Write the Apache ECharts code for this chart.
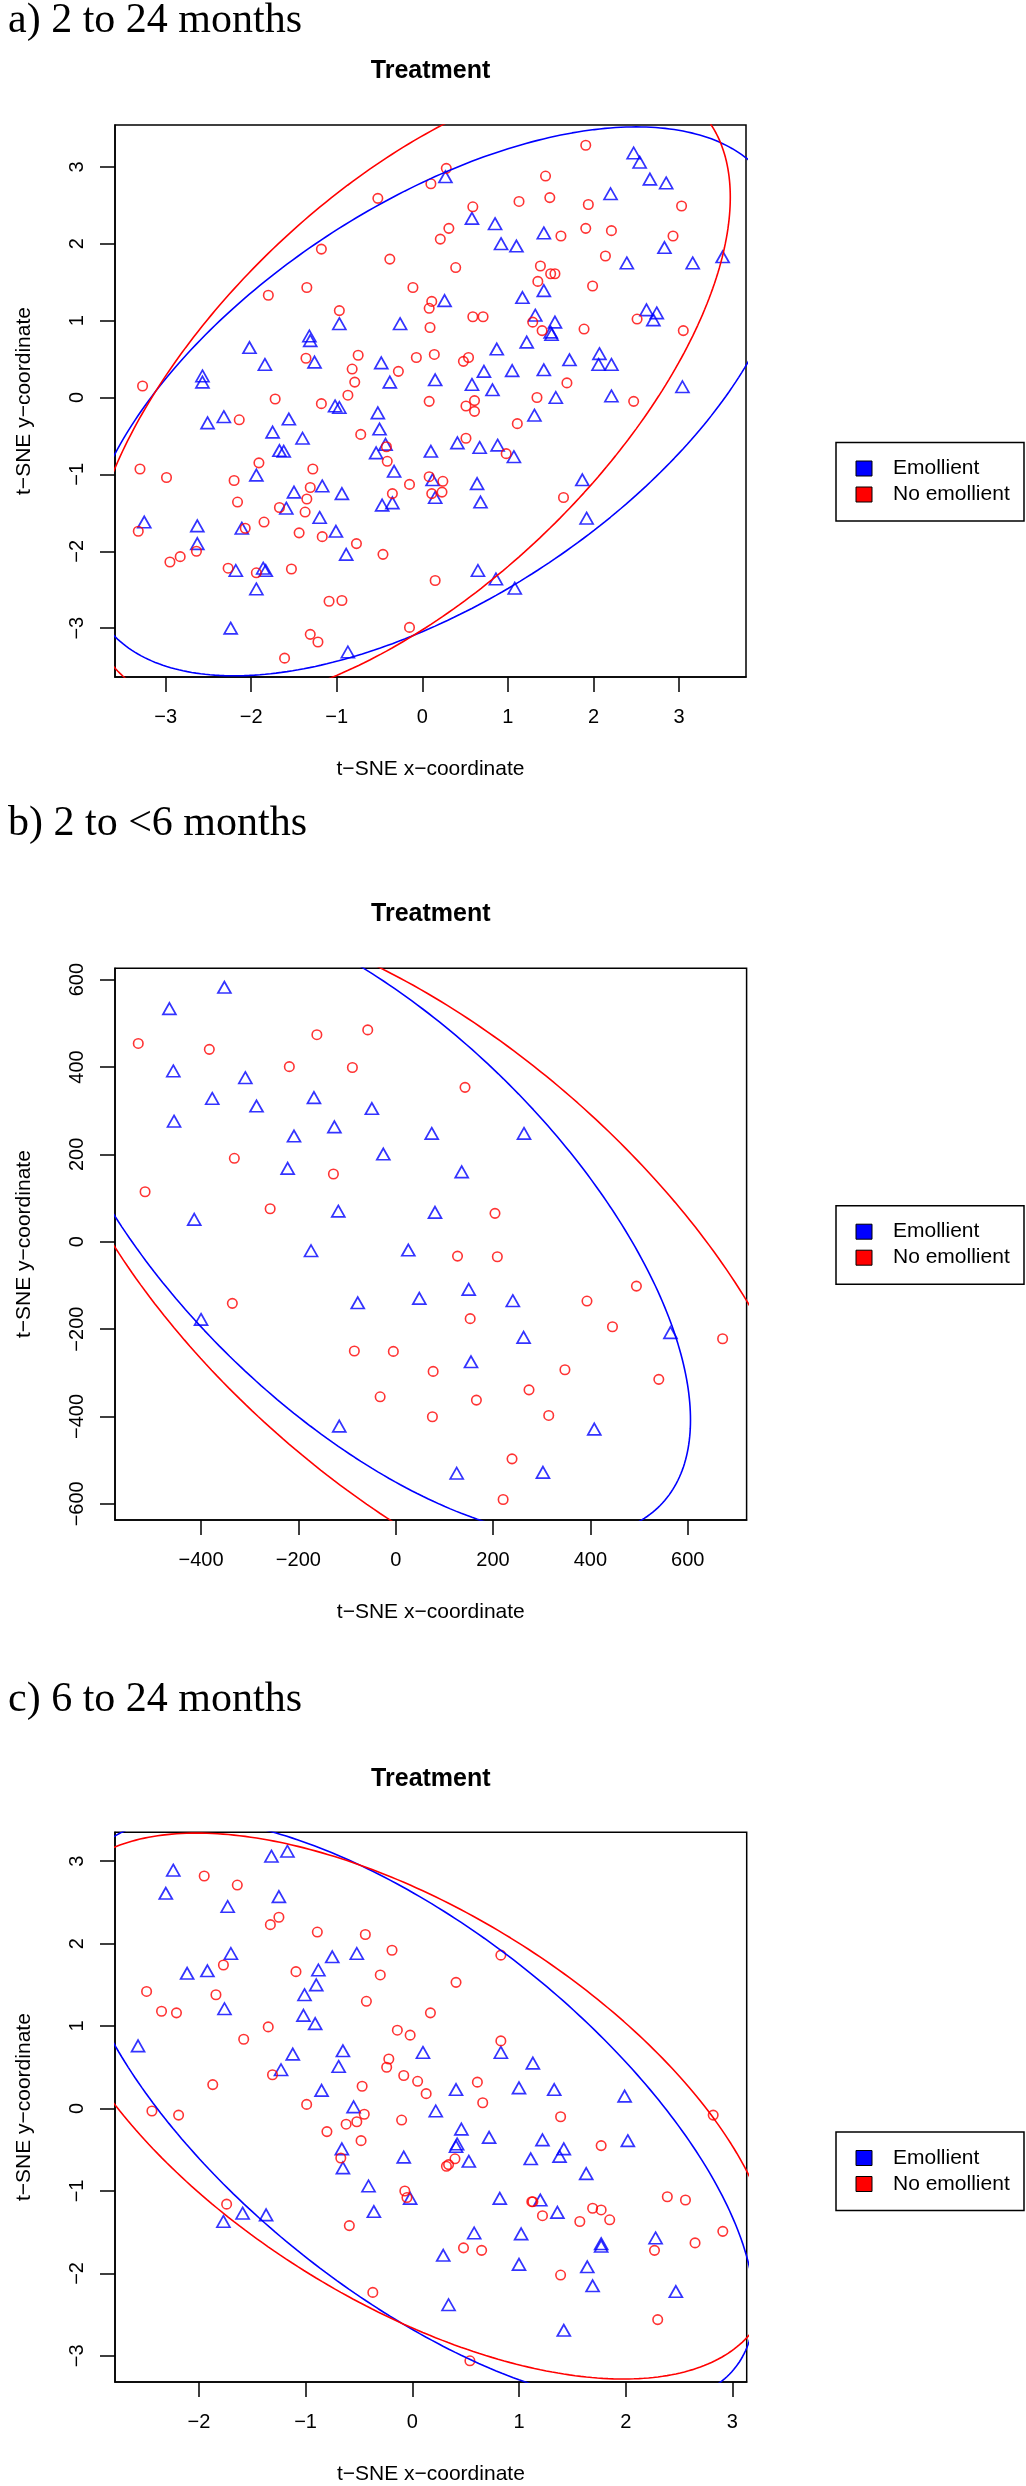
<!DOCTYPE html>
<html><head><meta charset="utf-8">
<script src="https://cdn.jsdelivr.net/npm/echarts@6/dist/echarts.min.js"></script>
<style>html,body{margin:0;padding:0;background:#fff}#chart{width:1026px;height:2486px}</style>
</head><body><div id="chart"></div>
<script>
// ---------- DATA ----------
// Panel a: 2 to 24 months
var aEmollient = [[-2.57,0.28],[-2.57,0.20],[-2.02,0.65],[-1.84,0.43],[-1.32,0.80],[-1.31,0.74],[-0.97,0.96],[-0.26,0.96],[-1.26,0.46],[-0.48,0.45],[-0.38,0.20],[-1.02,-0.11],[-0.97,-0.13],
[2.47,3.18],[2.54,3.06],[2.66,2.84],[2.85,2.79],[2.20,2.65],[0.27,2.87],[0.58,2.33],[0.85,2.26],[0.92,2.00],[1.10,1.97],[1.42,2.14],[2.83,1.95],[2.39,1.75],[3.16,1.75],[3.51,1.83],[1.42,1.39],[1.17,1.30],[0.26,1.26],[1.32,1.07],[1.55,0.98],[1.50,0.85],[1.51,0.82],[2.62,1.14],[2.74,1.10],[2.70,1.01],[1.22,0.72],[0.87,0.63],[2.07,0.57],[2.06,0.43],[2.21,0.43],[1.72,0.49],[0.72,0.34],[1.05,0.35],[1.42,0.36],[0.15,0.23],[0.58,0.17],[0.82,0.10],[3.04,0.14],
[1.56,0.0],[2.21,0.02],[1.31,-0.23],[0.41,-0.59],[0.10,-0.70],[0.67,-0.65],[0.88,-0.62],[1.07,-0.77],[0.12,-1.07],[0.15,-1.30],[0.64,-1.12],[0.68,-1.36],[1.87,-1.07],[1.92,-1.57],[0.65,-2.25],[0.86,-2.36],[1.08,-2.48],
[-2.51,-0.33],[-2.32,-0.25],[-1.56,-0.28],[-1.75,-0.45],[-1.40,-0.53],[-0.52,-0.20],[-0.50,-0.41],[-0.43,-0.61],[-0.54,-0.72],[-1.67,-0.69],[-1.62,-0.70],[-0.33,-0.96],[-1.94,-1.01],[-1.50,-1.23],[-1.17,-1.15],[-0.94,-1.25],[-0.47,-1.40],[-0.35,-1.37],[-1.59,-1.44],[-1.20,-1.56],[-3.25,-1.62],[-2.63,-1.67],[-2.11,-1.70],[-1.01,-1.74],[-2.63,-1.90],[-0.89,-2.04],[-2.18,-2.25],[-1.86,-2.22],[-1.83,-2.25],[-1.94,-2.49],[-2.24,-3.00],[-0.87,-3.31]];
var aNoEmollient = [[-3.27,0.15],[-0.52,2.59],[-1.18,1.93],[-0.38,1.80],[-1.80,1.33],[-1.35,1.43],[-0.11,1.43],[-0.97,1.13],[-1.36,0.51],[-0.75,0.55],[-0.82,0.37],[-0.79,0.20],[-0.87,0.03],[-0.28,0.34],[-0.07,0.52],[-1.72,-0.02],[-1.18,-0.08],
[1.91,3.28],[1.44,2.88],[1.49,2.60],[1.13,2.55],[1.94,2.51],[3.03,2.49],[0.59,2.48],[0.31,2.20],[0.21,2.06],[1.91,2.20],[2.21,2.17],[1.62,2.10],[2.93,2.10],[2.14,1.84],[0.39,1.69],[1.38,1.71],[1.50,1.61],[1.55,1.61],[1.35,1.51],[1.99,1.45],[0.11,1.25],[0.08,1.16],[0.59,1.05],[0.71,1.05],[0.09,0.91],[1.29,0.98],[1.40,0.87],[1.89,0.89],[2.51,1.02],[3.05,0.87],[0.14,0.56],[0.54,0.52],[0.48,0.47],[1.69,0.19],[0.10,2.78],[0.28,2.98],
[0.08,-0.05],[0.51,-0.11],[0.61,-0.04],[0.61,-0.18],[1.34,0.0],[2.47,-0.05],[1.11,-0.34],[0.51,-0.53],[0.98,-0.73],[0.08,-1.03],[0.24,-1.09],[0.11,-1.25],[0.23,-1.23],[1.65,-1.30],[0.15,-2.38],
[-2.14,-0.29],[-0.72,-0.48],[-0.42,-0.64],[-0.41,-0.83],[-1.91,-0.85],[-1.28,-0.93],[-3.30,-0.93],[-2.99,-1.04],[-2.20,-1.08],[-0.15,-1.13],[-1.31,-1.17],[-1.35,-1.32],[-2.16,-1.36],[-0.35,-1.25],[-1.67,-1.43],[-1.37,-1.49],[-1.85,-1.62],[-3.32,-1.74],[-2.07,-1.70],[-1.44,-1.76],[-1.17,-1.81],[-0.77,-1.90],[-0.46,-2.04],[-2.64,-2.00],[-2.95,-2.14],[-2.83,-2.07],[-2.27,-2.22],[-1.94,-2.28],[-1.53,-2.23],[-1.09,-2.65],[-0.94,-2.64],[-0.15,-2.99],[-1.31,-3.08],[-1.22,-3.18],[-1.61,-3.39]];
// ellipse parameters: [centerX, centerY, varX, covXY, varY] (scaled to the drawn contour)
var aEllipseEmollient = [0.15, -0.05, 16.78, 8.39, 12.74];
var aEllipseNoEmollient = [-0.157, 0.085, 14.11, 9.46, 16.68];
var aXTicks = [-3,-2,-1,0,1,2,3];
var aYTicks = [-3,-2,-1,0,1,2,3];

// Panel b: 2 to <6 months
var bEmollient = [[-352,582.5],[-465,533.6],[-457,391],[-309,375.6],[-377,328],[-286,310.7],[-168,330],[-49,305],[-455.5,276],[-126,263],[-209,242],[-25.5,200.8],[74,248],[-222,168],[-118,70],[-414,51.3],[80.7,67.3],[263.6,248],[135.6,160],[-174,-20.6],[25.9,-19],[-78,-139.7],[48.5,-129.7],[-400,-177.8],[-116,-422],[150,-109],[240.6,-135],[262.8,-219],[564.5,-208],[154.7,-274.8],[408,-429],[125.3,-530],[302.5,-528]];
var bNoEmollient = [[-529,454],[-383,440.5],[-162,474],[-57.5,485],[-218.6,400.8],[-89,399],[-331.6,191],[-128,155],[-515,114.5],[-258,75.6],[142.4,353.5],[204,65],[-335.7,-141],[-85,-250],[-4.9,-251],[-32,-355],[127,-32.8],[208.8,-34.3],[494.6,-101.5],[393,-135.8],[153,-176],[445.4,-194.6],[671.7,-222],[76.9,-296.8],[347.7,-293],[273.9,-339],[540.6,-315],[165.8,-362.5],[75.4,-400.7],[314.4,-397.6],[239,-497],[220.7,-590]];
var bEllipseEmollient = [-60, 55.5, 443157, -308437, 535481];
var bEllipseNoEmollient = [64.6, -60.3, 627362, -407785, 660926];
var bXTicks = [-400,-200,0,200,400,600];
var bYTicks = [-600,-400,-200,0,200,400,600];

// Panel c: 6 to 24 months
var cEmollient = [[-2.24,2.89],[-2.31,2.61],[-1.32,3.06],[-1.17,3.12],[-1.25,2.57],[-1.73,2.45],[-1.70,1.88],[-2.11,1.64],[-1.92,1.67],[-1.76,1.21],[-0.88,1.68],[-0.75,1.84],[-0.52,1.88],[-0.90,1.50],[-1.01,1.38],[-1.02,1.13],[-0.91,1.03],[-2.57,0.76],[-1.12,0.66],[-1.23,0.47],[-0.65,0.70],[-0.69,0.51],[-0.85,0.22],[-0.55,0.02],[0.10,0.68],
[0.83,0.68],[1.13,0.55],[0.41,0.23],[1.00,0.25],[1.33,0.23],[1.99,0.15],[0.22,-0.03],[0.46,-0.25],
[0.72,-0.35],[1.22,-0.38],[2.02,-0.39],[0.42,-0.43],[0.41,-0.46],[1.42,-0.49],[1.38,-0.58],[1.11,-0.61],[0.53,-0.64],[1.63,-0.79],[0.82,-1.09],[1.20,-1.11],[1.36,-1.26],[0.58,-1.51],[1.02,-1.52],[2.28,-1.57],[1.77,-1.64],[1.77,-1.67],[0.29,-1.78],[1.00,-1.89],[1.64,-1.92],[1.69,-2.15],[2.47,-2.22],[0.34,-2.38],[1.42,-2.69],
[-0.66,-0.49],[-0.65,-0.72],[-0.08,-0.59],[-0.41,-0.94],[-0.02,-1.09],[-0.36,-1.25],[-1.77,-1.37],[-1.59,-1.27],[-1.37,-1.29]];
var cNoEmollient = [[-1.95,2.82],[-1.64,2.71],[-1.33,2.23],[-1.25,2.32],[-0.89,2.14],[-0.44,2.11],[-0.19,1.92],[-1.77,1.74],[-1.09,1.66],[-0.30,1.62],[-2.49,1.42],[-1.84,1.38],[-0.43,1.30],[-2.35,1.18],[-2.21,1.16],[0.17,1.16],[-1.35,0.99],[-0.14,0.95],[-0.02,0.89],[-1.58,0.84],[-0.22,0.60],[-0.24,0.50],[-0.08,0.40],[0.05,0.33],[0.13,0.18],[-1.31,0.41],[-1.87,0.29],[-0.47,0.27],[-0.99,0.05],[-2.44,-0.03],[-2.19,-0.08],[-0.45,-0.07],[-0.52,-0.16],[-0.62,-0.19],[-0.10,-0.14],[-0.80,-0.28],[-0.48,-0.39],
[0.83,1.86],[0.41,1.53],[0.83,0.82],[0.61,0.32],[0.66,0.07],[1.39,-0.10],[2.82,-0.08],
[1.77,-0.45],[0.32,-0.70],[0.34,-0.68],[0.40,-0.61],[1.12,-1.13],[1.13,-1.13],[1.22,-1.30],[1.57,-1.37],[1.69,-1.21],[1.77,-1.23],[1.85,-1.35],[2.39,-1.07],[2.56,-1.11],[2.91,-1.49],[2.65,-1.63],[2.27,-1.72],[0.48,-1.69],[0.65,-1.72],[1.39,-2.02],[2.30,-2.56],[0.54,-3.06],
[-0.67,-0.60],[-0.07,-1.00],[-0.05,-1.08],[-1.74,-1.16],[-0.59,-1.42],[-0.37,-2.23]];
var cEllipseEmollient = [0.014, -0.039, 10.18, -7.54, 12.61];
var cEllipseNoEmollient = [-0.02, 0.03, 11.6, -6.62, 10.96];
var cXTicks = [-2,-1,0,1,2,3];
var cYTicks = [-3,-2,-1,0,1,2,3];

var panelHeadings = ['a) 2 to 24 months', 'b) 2 to <6 months', 'c) 6 to 24 months'];
var panelTitle = 'Treatment';
var groupNames = ['Emollient', 'No emollient'];
var xName = 't\u2212SNE x\u2212coordinate';
var yName = 't\u2212SNE y\u2212coordinate';

// ---------- LAYOUT / STYLE ----------
var FONT = '"Liberation Sans", Arial, Helvetica, sans-serif';
var BLUE = '#0000ff', RED = '#ff0000';
var panels = [
  {em:aEmollient, no:aNoEmollient, eEm:aEllipseEmollient, eNo:aEllipseNoEmollient, xt:aXTicks, yt:aYTicks,
   xr:[-3.592,3.783], yr:[-3.635,3.544], grid:{left:115, top:125, width:631, height:552},
   headY:21, titleY:71, legY:468.5},
  {em:bEmollient, no:bNoEmollient, eEm:bEllipseEmollient, eNo:bEllipseNoEmollient, xt:bXTicks, yt:bYTicks,
   xr:[-576.8,721], yr:[-637,626], grid:{left:115, top:968.3, width:631.6, height:551.7},
   headY:824, titleY:914, legY:1231.7},
  {em:cEmollient, no:cNoEmollient, eEm:cEllipseEmollient, eNo:cEllipseNoEmollient, xt:cXTicks, yt:cYTicks,
   xr:[-2.786,3.134], yr:[-3.317,3.350], grid:{left:115, top:1832.3, width:631.7, height:552.7},
   headY:1700, titleY:1779, legY:2158}
];

function ellipsePoints(p) {
  var cx = p[0], cy = p[1], sxx = p[2], sxy = p[3], syy = p[4];
  var l11 = Math.sqrt(sxx), l21 = sxy / l11, l22 = Math.sqrt(syy - l21 * l21);
  var pts = [];
  for (var i = 0; i <= 360; i++) {
    var t = i * Math.PI / 180;
    pts.push([cx + l11 * Math.cos(t), cy + l21 * Math.cos(t) + l22 * Math.sin(t)]);
  }
  return pts;
}
function fmt(v) { return v < 0 ? '\u2212' + Math.abs(v) : String(v); }

var grids = [], xAxes = [], yAxes = [], series = [], graphics = [];
panels.forEach(function (P, i) {
  grids.push(Object.assign({show:true, borderColor:'#000', borderWidth:1.5, backgroundColor:'rgba(0,0,0,0)', containLabel:false}, P.grid));
  var tick = {show:true, inside:false, length:15, lineStyle:{color:'#000', width:1.5}};
  xAxes.push({type:'value', gridIndex:i, min:P.xr[0], max:P.xr[1],
    name:xName, nameLocation:'middle', nameGap:82,
    nameTextStyle:{fontSize:21, fontFamily:FONT, color:'#000'},
    axisLine:{show:true, onZero:false, lineStyle:{color:'#000', width:1.5}},
    splitLine:{show:false},
    axisTick:Object.assign({customValues:P.xt}, tick),
    axisLabel:{show:true, margin:30, fontSize:20, fontFamily:FONT, color:'#000', customValues:P.xt, formatter:fmt}
  });
  yAxes.push({type:'value', gridIndex:i, min:P.yr[0], max:P.yr[1],
    name:yName, nameLocation:'middle', nameGap:80,
    nameTextStyle:{fontSize:21, fontFamily:FONT, color:'#000'},
    axisLine:{show:true, onZero:false, lineStyle:{color:'#000', width:1.5}},
    splitLine:{show:false},
    axisTick:Object.assign({customValues:P.yt}, tick),
    axisLabel:{show:true, rotate:90, margin:28, fontSize:20, fontFamily:FONT, color:'#000', customValues:P.yt, formatter:fmt}
  });
  series.push({type:'scatter', name:groupNames[0], xAxisIndex:i, yAxisIndex:i, data:P.em,
    symbol:'triangle', symbolSize:[13,11.5], silent:true, z:3,
    itemStyle:{color:'rgba(0,0,0,0)', borderColor:BLUE, borderWidth:1.7}});
  series.push({type:'scatter', name:groupNames[1], xAxisIndex:i, yAxisIndex:i, data:P.no,
    symbol:'circle', symbolSize:9.5, silent:true, z:3,
    itemStyle:{color:'rgba(0,0,0,0)', borderColor:RED, borderWidth:1.6}});
  series.push({type:'line', name:groupNames[0] + ' ellipse', xAxisIndex:i, yAxisIndex:i, data:ellipsePoints(P.eEm),
    showSymbol:false, symbol:'none', silent:true, clip:true, z:4, lineStyle:{color:BLUE, width:1.6}});
  series.push({type:'line', name:groupNames[1] + ' ellipse', xAxisIndex:i, yAxisIndex:i, data:ellipsePoints(P.eNo),
    showSymbol:false, symbol:'none', silent:true, clip:true, z:4, lineStyle:{color:RED, width:1.6}});

  // heading, title, legend
  graphics.push({type:'text', x:8, y:P.headY, silent:true,
    style:{text:panelHeadings[i], font:'42px "Liberation Serif", "Times New Roman", serif', fill:'#000',
      textVerticalAlign:'middle', verticalAlign:'middle'}});
  graphics.push({type:'text', x:P.grid.left + P.grid.width / 2, y:P.titleY, silent:true,
    style:{text:panelTitle, font:'bold 25px ' + FONT, fill:'#000', textAlign:'center', align:'center',
      textVerticalAlign:'middle', verticalAlign:'middle'}});
  var ly = P.legY;
  graphics.push({type:'rect', silent:true, shape:{x:836, y:ly - 26, width:188, height:78.5},
    style:{fill:'#fff', stroke:'#000', lineWidth:1.5}});
  [BLUE, RED].forEach(function (c, k) {
    var yy = ly + k * 26;
    graphics.push({type:'rect', silent:true, shape:{x:856, y:yy - 7.5, width:16, height:15},
      style:{fill:c, stroke:'#000', lineWidth:1}});
    graphics.push({type:'text', silent:true, x:893, y:yy,
      style:{text:groupNames[k], font:'21px ' + FONT, fill:'#000', textVerticalAlign:'middle', verticalAlign:'middle'}});
  });
});

var chart = echarts.init(document.getElementById('chart'), null, {renderer:'canvas'});
chart.setOption({
  animation:false,
  backgroundColor:'#fff',
  grid:grids, xAxis:xAxes, yAxis:yAxes, series:series, graphic:graphics
});
</script></body></html>
